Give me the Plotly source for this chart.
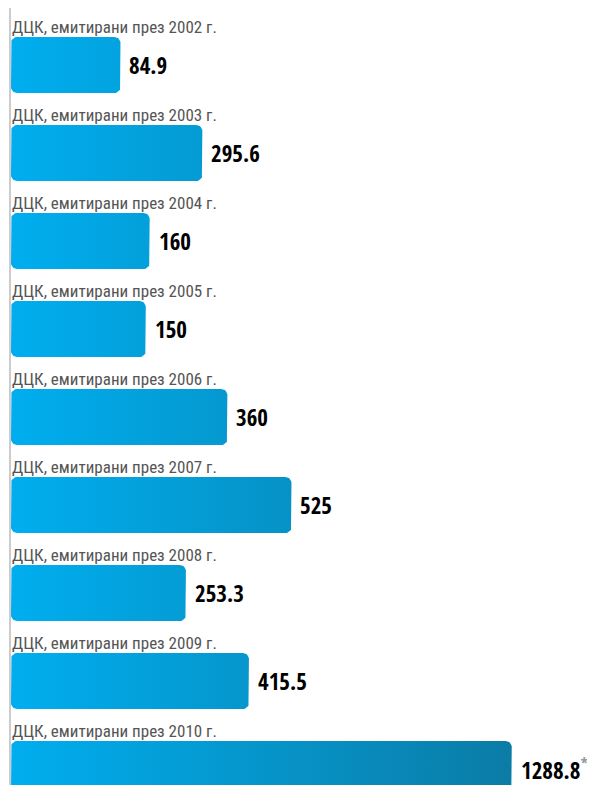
import math
import plotly.graph_objects as go

# ---- data ----
categories = [
    "ДЦК, емитирани през 2002 г.",
    "ДЦК, емитирани през 2003 г.",
    "ДЦК, емитирани през 2004 г.",
    "ДЦК, емитирани през 2005 г.",
    "ДЦК, емитирани през 2006 г.",
    "ДЦК, емитирани през 2007 г.",
    "ДЦК, емитирани през 2008 г.",
    "ДЦК, емитирани през 2009 г.",
    "ДЦК, емитирани през 2010 г.",
]
values = [84.9, 295.6, 160, 150, 360, 525, 253.3, 415.5, 1288.8]
value_labels = ["84.9", "295.6", "160", "150", "360", "525", "253.3", "415.5", "1288.8"]
footnote_marks = ["", "", "", "", "", "", "", "", "*"]

# ---- layout / style constants (page body has an 8px margin) ----
OFF = 8
W, H = 595 - OFF, 785 - OFF
ML = 10 - OFF
PX_PER_UNIT = 0.3885          # horizontal scale
ZERO_PX = 87.5 - OFF          # pixel position of value 0
X_MIN = (ML - ZERO_PX) / PX_PER_UNIT
X_MAX = (W - ZERO_PX) / PX_PER_UNIT
BAR_START = X_MIN + 1 / PX_PER_UNIT
DISPLAY_CAP = 1092            # longest bar is drawn shortened (off-scale, marked with *)

ROW_PX = 88                   # row pitch
FIRST_CENTER_PX = 65 - OFF
Y_TOP = -FIRST_CENTER_PX / ROW_PX
Y_BOTTOM = (H - FIRST_CENTER_PX) / ROW_PX
HALF_BAR = 28 / ROW_PX
LABEL_OFFSET = 38 / ROW_PX
RAD_X = 6 / PX_PER_UNIT
RAD_Y = 6 / ROW_PX

C_LEFT = "#00AEEF"
C_RIGHT = "#0B7CA6"
LABEL_FONT = "Roboto Condensed, Liberation Sans Narrow, sans-serif"
VALUE_FONT = "Open Sans Condensed, Roboto Condensed, sans-serif"


def rounded_rect(x0, x1, y0, y1, rx, ry, n=8):
    xs, ys = [], []
    corners = [
        (x1 - rx, y0 + ry, 270, 360),
        (x1 - rx, y1 - ry, 0, 90),
        (x0 + rx, y1 - ry, 90, 180),
        (x0 + rx, y0 + ry, 180, 270),
    ]
    for cx, cy, a0, a1 in corners:
        for k in range(n + 1):
            t = math.radians(a0 + (a1 - a0) * k / n)
            xs.append(cx + rx * math.cos(t))
            ys.append(cy + ry * math.sin(t))
    xs.append(xs[0])
    ys.append(ys[0])
    return xs, ys


fig = go.Figure()
annotations = []
for i, (cat, v, lab, fm) in enumerate(zip(categories, values, value_labels, footnote_marks)):
    end = min(v, DISPLAY_CAP)
    xs, ys = rounded_rect(BAR_START, end, i - HALF_BAR, i + HALF_BAR, RAD_X, RAD_Y)
    fig.add_trace(go.Scatter(
        x=xs, y=ys, mode="lines", fill="toself", line=dict(width=0),
        fillgradient=dict(type="horizontal",
                          colorscale=[[0, C_LEFT], [1, C_RIGHT]],
                          start=BAR_START, stop=DISPLAY_CAP),
        hoverinfo="skip", showlegend=False,
    ))
    annotations.append(dict(
        x=X_MIN, y=i - LABEL_OFFSET, xref="x", yref="y", text=cat,
        showarrow=False, xanchor="left", yanchor="middle", xshift=0,
        font=dict(family=LABEL_FONT, size=17, color="#555555"),
    ))
    txt = f"<b>{lab}</b>"
    if fm:
        txt += f"<sup><span style='color:#999999'>{fm}</span></sup>"
    annotations.append(dict(
        x=end, y=i, xref="x", yref="y", text=txt,
        showarrow=False, xanchor="left", yanchor="middle", xshift=7,
        font=dict(family=VALUE_FONT, size=23, color="#000000"),
    ))

fig.update_layout(
    width=W, height=H,
    margin=dict(l=ML, r=0, t=0, b=0),
    paper_bgcolor="white", plot_bgcolor="white",
    showlegend=False,
    xaxis=dict(range=[X_MIN, X_MAX], visible=False, fixedrange=True),
    yaxis=dict(range=[Y_BOTTOM, Y_TOP], visible=False, fixedrange=True),
    annotations=annotations,
    shapes=[dict(type="line", xref="paper", yref="paper", x0=0, x1=0, y0=0, y1=1,
                 line=dict(color="#999999", width=1))],
)

fig.write_html("out.html")
